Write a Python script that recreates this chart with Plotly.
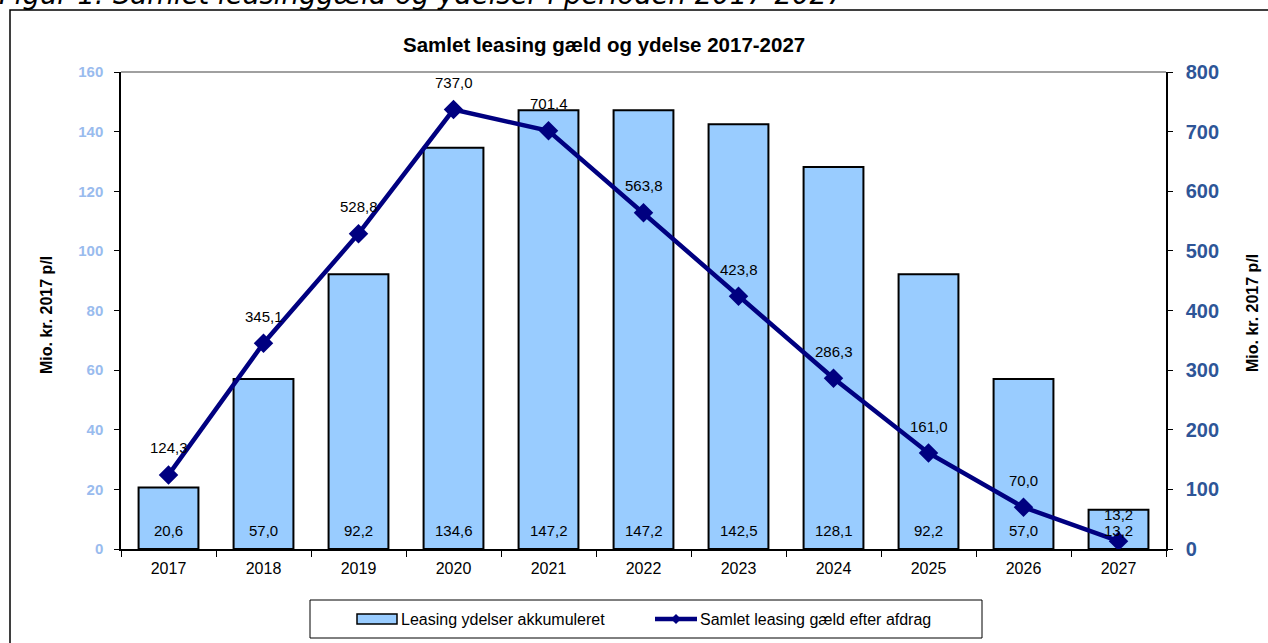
import plotly.graph_objects as go

years = ["2017", "2018", "2019", "2020", "2021", "2022", "2023", "2024", "2025", "2026", "2027"]
ydelser = [20.6, 57.0, 92.2, 134.6, 147.2, 147.2, 142.5, 128.1, 92.2, 57.0, 13.2]
gaeld = [124.3, 345.1, 528.8, 737.0, 701.4, 563.8, 423.8, 286.3, 161.0, 70.0, 13.2]
left_ticks = [0, 20, 40, 60, 80, 100, 120, 140, 160]
right_ticks = [0, 100, 200, 300, 400, 500, 600, 700, 800]
series_names = ["Leasing ydelser akkumuleret", "Samlet leasing gæld efter afdrag"]

FONT = "Liberation Sans, Arial, sans-serif"
BAR_COLOR = "#99CCFF"
LINE_COLOR = "#000080"

def fmt(v):
    return f"{v:.1f}".replace(".", ",")

W, H = 1268, 643
L, R, T, B = 121, 102, 72, 94
pw, ph = W - L - R, H - T - B

def px_x(x):
    return (x - L) / pw

def px_y(y):
    return (H - B - y) / ph

fig = go.Figure()
fig.add_trace(go.Bar(
    x=years, y=ydelser, name=series_names[0],
    marker=dict(color=BAR_COLOR, line=dict(color="black", width=2)),
    yaxis="y", hoverinfo="y", showlegend=False,
))
fig.add_trace(go.Scatter(
    x=years, y=gaeld, name=series_names[1],
    mode="lines+markers", yaxis="y2",
    line=dict(color=LINE_COLOR, width=4.5),
    marker=dict(symbol="diamond", size=15, color=LINE_COLOR),
    showlegend=False,
))

annotations = []
for i, v in enumerate(ydelser):
    annotations.append(dict(x=i, y=0, xref="x", yref="y", text=fmt(v), showarrow=False,
                            yshift=19, font=dict(family=FONT, size=15, color="black")))
for i, v in enumerate(gaeld):
    annotations.append(dict(x=i, y=v, xref="x", yref="y2", text=fmt(v), showarrow=False,
                            yshift=27, font=dict(family=FONT, size=15, color="black")))

annotations += [
    dict(x=px_x(604), y=px_y(44), xref="paper", yref="paper", showarrow=False,
         text="<b>Samlet leasing gæld og ydelse 2017-2027</b>",
         font=dict(family=FONT, size=20.5, color="black"), xanchor="center", yanchor="middle"),
    dict(x=px_x(46), y=px_y(315), xref="paper", yref="paper", showarrow=False, textangle=-90,
         text="<b>Mio. kr. 2017 p/l</b>", font=dict(family=FONT, size=16, color="black"),
         xanchor="center", yanchor="middle"),
    dict(x=px_x(1252), y=px_y(313), xref="paper", yref="paper", showarrow=False, textangle=-90,
         text="<b>Mio. kr. 2017 p/l</b>", font=dict(family=FONT, size=16, color="black"),
         xanchor="center", yanchor="middle"),
    dict(x=px_x(-3), y=px_y(-6), xref="paper", yref="paper", showarrow=False,
         text="<i>Figur 1: Samlet leasinggæld og ydelser i perioden 2017-2027</i>",
         font=dict(family="DejaVu Sans, Verdana, sans-serif", size=27.5, color="black"),
         xanchor="left", yanchor="middle"),
    dict(x=px_x(399), y=px_y(619), xref="paper", yref="paper", showarrow=False,
         text=series_names[0], font=dict(family=FONT, size=16, color="black"),
         xanchor="left", yanchor="middle"),
    dict(x=px_x(698), y=px_y(619), xref="paper", yref="paper", showarrow=False,
         text=series_names[1], font=dict(family=FONT, size=16, color="black"),
         xanchor="left", yanchor="middle"),
]

dx, dy = 5 / pw, 5 / ph
cx, cy = px_x(676), px_y(619)
shapes = [
    dict(type="rect", xref="paper", yref="paper", x0=px_x(10), y0=px_y(700), x1=px_x(1300), y1=px_y(10),
         line=dict(color="black", width=1.5), layer="below"),
    dict(type="line", xref="paper", yref="paper", x0=0, x1=1, y0=1, y1=1,
         line=dict(color="#808080", width=1.5)),
    dict(type="rect", xref="paper", yref="paper", x0=px_x(310), y0=px_y(638), x1=px_x(982), y1=px_y(600),
         line=dict(color="black", width=1)),
    dict(type="rect", xref="paper", yref="paper", x0=px_x(357), y0=px_y(624), x1=px_x(397), y1=px_y(614),
         fillcolor=BAR_COLOR, line=dict(color="black", width=1.5)),
    dict(type="line", xref="paper", yref="paper", x0=px_x(655), y0=cy, x1=px_x(697), y1=cy,
         line=dict(color=LINE_COLOR, width=4.5)),
    dict(type="path", xref="paper", yref="paper",
         path=f"M {cx - dx} {cy} L {cx} {cy + dy} L {cx + dx} {cy} L {cx} {cy - dy} Z",
         fillcolor=LINE_COLOR, line=dict(color=LINE_COLOR, width=0)),
]

fig.update_layout(
    width=W, height=H,
    margin=dict(l=L, r=R, t=T, b=B, pad=0),
    paper_bgcolor="white", plot_bgcolor="white",
    font=dict(family=FONT, size=13, color="black"),
    bargap=0.37,
    showlegend=False,
    xaxis=dict(type="category", range=[-0.5, len(years) - 0.5], autorange=False,
               showline=True, linecolor="black", linewidth=1.5,
               ticks="outside", ticklen=6, tickcolor="black", tickson="boundaries",
               tickfont=dict(family=FONT, size=16, color="black"), showgrid=False, tickangle=0,
               ticklabelstandoff=4),
    yaxis=dict(range=[0, 160], tickvals=left_ticks, showline=True, linecolor="black", linewidth=1.5,
               ticks="outside", ticklen=5, tickcolor="black", showgrid=False, zeroline=False,
               ticklabelstandoff=8,
               tickfont=dict(family=FONT, size=15, color="#99BBEE", weight="bold")),
    yaxis2=dict(range=[0, 800], tickvals=right_ticks, overlaying="y", side="right",
                showline=True, linecolor="black", linewidth=1.5,
                ticks="outside", ticklen=5, tickcolor="black", showgrid=False, zeroline=False,
                ticklabelstandoff=9,
                tickfont=dict(family=FONT, size=20, color="#2E5597", weight="bold")),
    annotations=annotations,
    shapes=shapes,
    hovermode="x",
)

fig.write_html("out.html", config={"displayModeBar": False},
               post_script="document.body.style.margin='0px';document.body.style.overflow='hidden';")
